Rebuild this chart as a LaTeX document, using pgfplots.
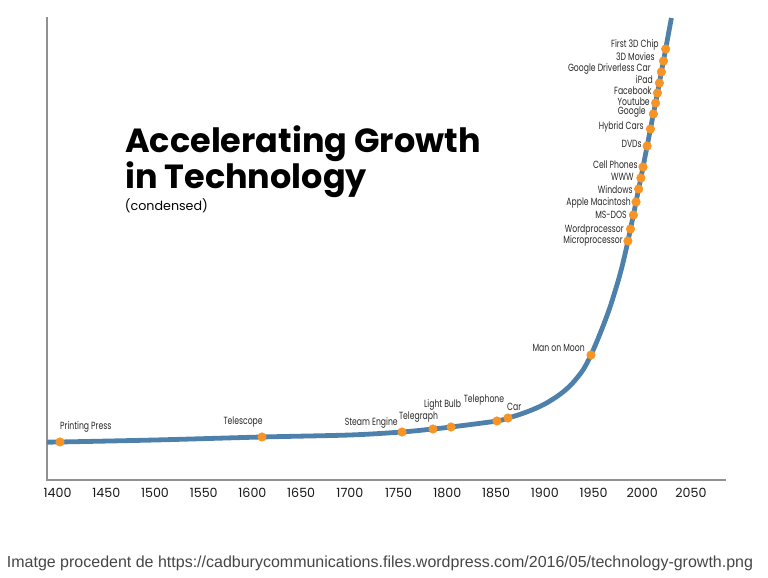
\documentclass[border=0pt]{standalone}
\usepackage{pgfplots}
\pgfplotsset{compat=1.18}
\usepackage{pgfplotstable}
\usepackage{fontspec}
\setmainfont{Poppins}
\newfontfamily\narrowfont{Poppins}[FakeStretch=0.74]
\newfontfamily\captionfont{Liberation Sans}

\definecolor{curveblue}{RGB}{78,128,172}
\definecolor{dotorange}{RGB}{247,148,36}
\definecolor{axisgray}{RGB}{145,145,145}
\definecolor{labelgray}{RGB}{40,40,40}
\definecolor{captiongray}{RGB}{70,70,70}

% growth curve (year, level)
\pgfplotstableread[col sep=comma]{
year,level
1389.2,38
1402.5,38
1500.0,40
1609.8,43
1700.1,45
1753.5,48
1785.3,51
1803.8,53
1850.9,59
1862.2,62
1874.5,65.6
1887.9,70.5
1900.2,76.1
1912.5,83.5
1920.7,89.6
1928.9,97.3
1939.2,110
1947.4,125
1956.9,146.8
1966.4,171.4
1975.9,201.2
1981.6,222.8
1985.3,239
1987.9,251
1990.9,265
1993.6,278
1996.3,291
1998.6,302
2000.8,313
2005.0,334
2008.4,351
2011.4,366
2013.7,377
2015.6,387
2017.6,397
2019.6,408
2021.8,419
2024.0,431
2029.9,462
}\curvedata

% milestones labelled to the right of their offset point
\pgfplotstableread[col sep=comma]{
year,level,name,dx,dy
1402.5,38,Printing Press,0,15
1862.2,62,Car,-1,11
}\eventsW

% milestones labelled centred on their offset point
\pgfplotstableread[col sep=comma]{
year,level,name,dx,dy
1785.3,51,Telegraph,-14.5,12
1803.8,53,Light Bulb,-8.5,22
1850.9,59,Telephone,-13,21
}\eventsC

% milestones labelled to the left of their offset point
\pgfplotstableread[col sep=comma]{
year,level,name,dx,dy
1609.8,43,Telescope,1,15
1753.5,48,Steam Engine,-4,9
1947.4,125,Man on Moon,-6,7
1985.3,239,Microprocessor,-5,0
1987.9,251,Wordprocessor,-6.5,-1
1990.9,265,MS-DOS,-6.4,0
1993.6,278,Apple Macintosh,-5,-1
1996.3,291,Windows,-5.7,-1
1998.6,302,WWW,-6.9,1
2000.8,313,Cell Phones,-5.1,2
2005.0,334,DVDs,-5.2,2
2008.4,351,Hybrid Cars,-6.5,2
2011.4,366,Google,-7.4,2
2013.7,377,Youtube,-5.6,1
2015.6,387,Facebook,-5.5,2
2017.6,397,iPad,-6.4,3
2019.6,408,Google Driverless Car,-10.4,3
2021.8,419,3D Movies,-8.5,4
2024.0,431,First 3D Chip,-6.7,4
}\eventsE

\newcommand\eventfont{\narrowfont\fontsize{7.8}{9.5}\selectfont}

\pgfplotsset{
  milestones/.style={only marks, mark=*, mark size=3.2pt, color=dotorange,
    mark options={fill=dotorange, draw=none},
    nodes near coords, point meta=explicit symbolic,
    visualization depends on={\thisrow{dx} \as \evdx},
    visualization depends on={\thisrow{dy} \as \evdy},
    every node near coord/.append style={font=\eventfont, text=labelgray,
      inner sep=0pt, anchor=#1, xshift=\evdx*0.75pt, yshift=\evdy*0.75pt}},
}

\begin{document}
\begin{tikzpicture}
\useasboundingbox (0,0) rectangle (576pt,433.5pt);
\begin{axis}[
  at={(35.25pt,73.5pt)}, anchor=south west,
  scale only axis, width=508.5pt, height=346.5pt,
  xmin=1389.2, xmax=2084.9, ymin=0, ymax=462,
  axis x line=bottom, axis y line=left,
  axis line style={-, draw=axisgray, line width=1.8pt, line cap=rect},
  xtick={1400,1450,...,2050}, ytick=\empty,
  major tick length=0pt,
  /pgf/number format/assume math mode=true,
  /pgf/number format/1000 sep={},
  xticklabel style={font=\fontsize{9.5}{11}\selectfont, text=black!90, anchor=north, yshift=-2.8pt},
]
\addplot[curveblue, line width=3.6pt, smooth, no markers] table[x=year, y=level] {\curvedata};
\addplot[milestones=west] table[x=year, y=level, meta=name] {\eventsW};
\addplot[milestones=center] table[x=year, y=level, meta=name] {\eventsC};
\addplot[milestones=east] table[x=year, y=level, meta=name] {\eventsE};
\end{axis}

\node[anchor=base west, inner sep=0pt, font=\bfseries\fontsize{25.1}{28}\selectfont] at (93.75pt,318.75pt) {Accelerating Growth};
\node[anchor=base west, inner sep=0pt, font=\bfseries\fontsize{25.1}{28}\selectfont] at (93.75pt,291.75pt) {in Technology};
\node[anchor=base west, inner sep=0pt, font=\fontsize{9.5}{11}\selectfont] at (93.5pt,275.25pt) {(condensed)};

\node[anchor=base, inner sep=0pt, text=captiongray, font=\captionfont\fontsize{12}{14}\selectfont] at (285pt,7.5pt) {Imatge procedent de https://cadburycommunications.files.wordpress.com/2016/05/technology-growth.png};
\end{tikzpicture}
\end{document}
